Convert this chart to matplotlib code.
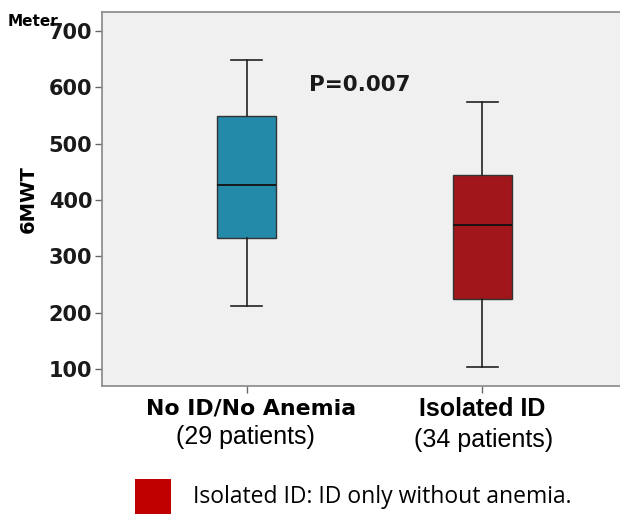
import matplotlib.pyplot as plt
from matplotlib.patches import Rectangle

# data
groups = ['No ID/No Anemia', 'Isolated ID']
counts = ['(29 patients)', '(34 patients)']
whislo = [212, 103]
q1 = [332, 224]
med = [426, 355]
q3 = [549, 444]
whishi = [648, 574]
colors = ['#238aaa', '#a0161a']
yticks = [100, 200, 300, 400, 500, 600, 700]

fig = plt.figure(figsize=(6.2, 5.14), dpi=100)
ax = fig.add_axes([102 / 620, 128 / 514, 530 / 620, 374 / 514])
ax.set_facecolor('#f0f0f0')

stats = []
for i in range(len(groups)):
    stats.append({'whislo': whislo[i], 'q1': q1[i], 'med': med[i],
                  'q3': q3[i], 'whishi': whishi[i], 'fliers': []})

bp = ax.bxp(stats, positions=[1, 2], widths=0.25, capwidths=0.13,
            patch_artist=True, showfliers=False,
            boxprops=dict(edgecolor='#333333', linewidth=1.0),
            medianprops=dict(color='#111111', linewidth=1.3),
            whiskerprops=dict(color='#222222', linewidth=1.2),
            capprops=dict(color='#222222', linewidth=1.2))
for patch, c in zip(bp['boxes'], colors):
    patch.set_facecolor(c)

ax.set_xlim(0.387, 2.634)
ax.set_ylim(70, 734)
ax.set_yticks(yticks)
ax.set_yticklabels([str(v) for v in yticks], fontsize=15, fontweight='bold',
                   color='#1a1a1a')
ax.set_xticks([1, 2])
ax.set_xticklabels(['', ''])
ax.tick_params(axis='both', direction='out', length=5, color='#666666',
               width=1, pad=2)

for side in ['left', 'bottom', 'top']:
    ax.spines[side].set_color('#888888')
    ax.spines[side].set_linewidth(1.2)
ax.spines['right'].set_visible(False)

ax.set_ylabel('6MWT', fontsize=14, fontweight='bold')
ax.yaxis.set_label_coords(-0.121, 0.5)

fig.text(8 / 620, 1 - 21 / 514, 'Meter', fontsize=11, fontweight='bold',
         va='center', ha='left')

ax.text(1.48, 604, 'P=0.007', fontsize=15.5, fontweight='bold',
        ha='center', va='center', color='#1a1a1a')

trans = ax.get_xaxis_transform()
ax.text(1.02, -(409 - 386) / 374, groups[0], transform=trans, ha='center',
        va='center', fontsize=15.8, fontweight='bold')
ax.text(2.0, -(409 - 386) / 374, groups[1], transform=trans, ha='center',
        va='center', fontsize=18, fontweight='bold', family='Liberation Sans')
ax.text(0.995, -(437 - 386) / 374, counts[0], transform=trans, ha='center',
        va='center', fontsize=18, family='Liberation Sans')
ax.text(2.005, -(440 - 386) / 374, counts[1], transform=trans, ha='center',
        va='center', fontsize=18, family='Liberation Sans')

fig.patches.append(Rectangle((135 / 620, 0), 36 / 620, 35 / 514,
                             transform=fig.transFigure, facecolor='#c00000',
                             edgecolor='none'))
fig.text(193 / 620, 1 - 497 / 514, 'Isolated ID: ID only without anemia.',
         fontsize=16.5, family='Open Sans', va='center', ha='left')

fig.savefig('out.png', dpi=100)
